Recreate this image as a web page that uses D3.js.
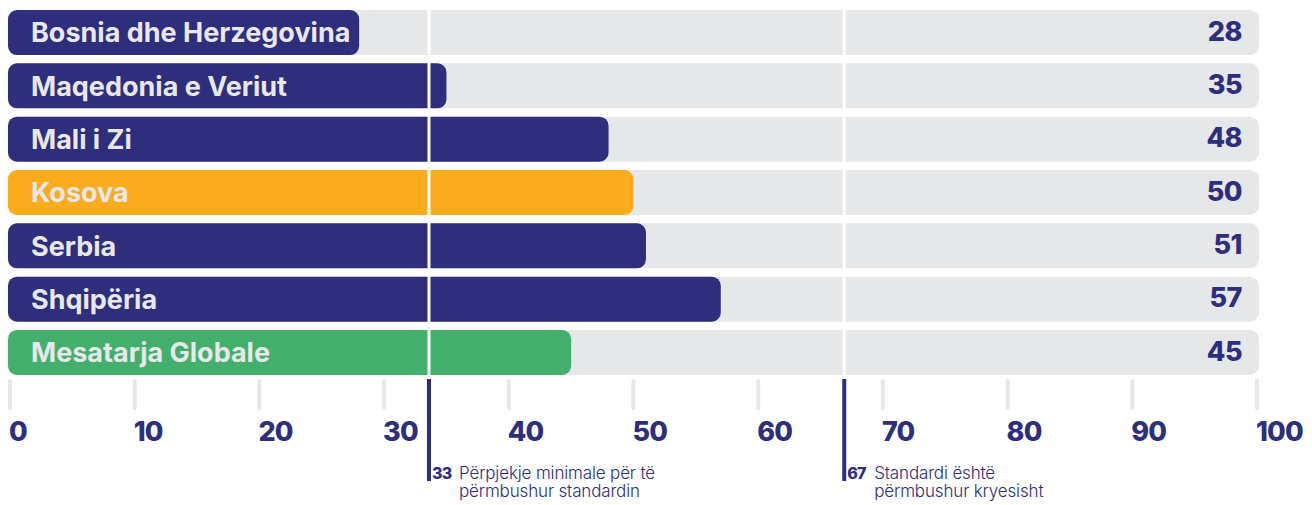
<!DOCTYPE html>
<html>
<head>
<meta charset="utf-8">
<script src="https://cdn.jsdelivr.net/npm/d3@7"></script>
<style>
  body { margin: 0; background: #fff; }
  svg { display: block; }
</style>
</head>
<body>
<svg width="1312" height="505"></svg>
<script>
const countries = ['Bosnia dhe Herzegovina', 'Maqedonia e Veriut', 'Mali i Zi', 'Kosova', 'Serbia', 'Shqipëria', 'Mesatarja Globale'];
const scores = [28, 35, 48, 50, 51, 57, 45];
const barColors = ['#2e2e7c', '#2e2e7c', '#2e2e7c', '#faab1e', '#2e2e7c', '#2e2e7c', '#42b06c'];
const ticks = [0, 10, 20, 30, 40, 50, 60, 70, 80, 90, 100];
const thresholds = [33, 67];
// where the marker lines sit on the scale in the original (slightly off the labels)
const thresholdAt = [33.6, 66.9];
const thresholdLines = [
  ['Përpjekje minimale për të', 'përmbushur standardin'],
  ['Standardi është', 'përmbushur kryesisht']
];

const navy = '#2e2e7c';
const grey = '#e6e7e8';
const font = 'Inter, "Open Sans", sans-serif';

const svg = d3.select('svg');
const width = +svg.attr('width');

const x = d3.scaleLinear()
  .domain([0, 100])
  .range([10, 1257]);

const y = d3.scaleBand()
  .domain(countries)
  .range([10, 375])
  .paddingInner(0.156)
  .paddingOuter(0);

const rows = svg.append('g').selectAll('g')
  .data(countries)
  .enter().append('g');

// grey background track
rows.append('rect')
  .attr('x', x(0) - 2)
  .attr('y', d => y(d))
  .attr('width', x(100) - x(0) + 4)
  .attr('height', y.bandwidth())
  .attr('rx', 9)
  .attr('fill', grey);

// coloured bar
rows.append('rect')
  .attr('x', x(0) - 2)
  .attr('y', d => y(d))
  .attr('width', (d, i) => x(scores[i]) - x(0) + 2)
  .attr('height', y.bandwidth())
  .attr('rx', 9)
  .attr('fill', (d, i) => barColors[i]);

// white separators at the thresholds
svg.append('g').selectAll('line')
  .data(thresholdAt)
  .enter().append('line')
  .attr('x1', d => x(d))
  .attr('x2', d => x(d))
  .attr('y1', y.range()[0])
  .attr('y2', y.range()[1])
  .attr('stroke', '#fff')
  .attr('stroke-width', 3);

rows.append('text')
  .attr('x', x(0) + 21)
  .attr('y', d => y(d) + y.bandwidth() / 2)
  .attr('dy', '0.37em')
  .attr('font-family', font)
  .attr('font-weight', 700)
  .attr('font-size', 27)
  .attr('letter-spacing', 0)
  .attr('fill', '#e8e8ea')
  .text(d => d);

rows.append('text')
  .attr('x', x(100) - 15)
  .attr('y', d => y(d) + y.bandwidth() / 2)
  .attr('dy', '0.3em')
  .attr('text-anchor', 'end')
  .attr('font-family', font)
  .attr('font-weight', 800)
  .attr('font-size', 27)
  .attr('letter-spacing', -0.5)
  .attr('fill', navy)
  .text((d, i) => scores[i]);

// axis
const axis = svg.append('g');
axis.selectAll('line')
  .data(ticks)
  .enter().append('line')
  .attr('x1', d => x(d))
  .attr('x2', d => x(d))
  .attr('y1', 381)
  .attr('y2', 408)
  .attr('stroke', grey)
  .attr('stroke-width', 4)
  .attr('stroke-linecap', 'round');

axis.selectAll('text')
  .data(ticks)
  .enter().append('text')
  .attr('x', d => x(d) - 1)
  .attr('y', 441)
  .attr('font-family', font)
  .attr('font-weight', 800)
  .attr('font-size', 27)
  .attr('letter-spacing', -0.8)
  .attr('fill', navy)
  .text(d => d);

// threshold markers below the axis
const marks = svg.append('g').selectAll('g')
  .data(thresholds)
  .enter().append('g')
  .attr('transform', (d, i) => `translate(${x(thresholdAt[i]) - 2},0)`);

marks.append('rect')
  .attr('x', 0)
  .attr('y', 379)
  .attr('width', 4)
  .attr('height', 102)
  .attr('fill', navy);

marks.append('text')
  .attr('x', 5)
  .attr('y', 479)
  .attr('font-family', font)
  .attr('font-weight', 800)
  .attr('font-size', 16)
  .attr('letter-spacing', -0.8)
  .attr('fill', navy)
  .text(d => d);

marks.each(function (d, i) {
  const t = d3.select(this).append('text')
    .attr('font-family', font)
    .attr('font-weight', 300)
    .attr('font-size', 17)
    .attr('letter-spacing', -0.15)
    .attr('fill', navy);
  thresholdLines[i].forEach((line, j) => {
    t.append('tspan')
      .attr('x', 32)
      .attr('y', 479 + j * 18)
      .text(line);
  });
});
</script>
</body>
</html>
